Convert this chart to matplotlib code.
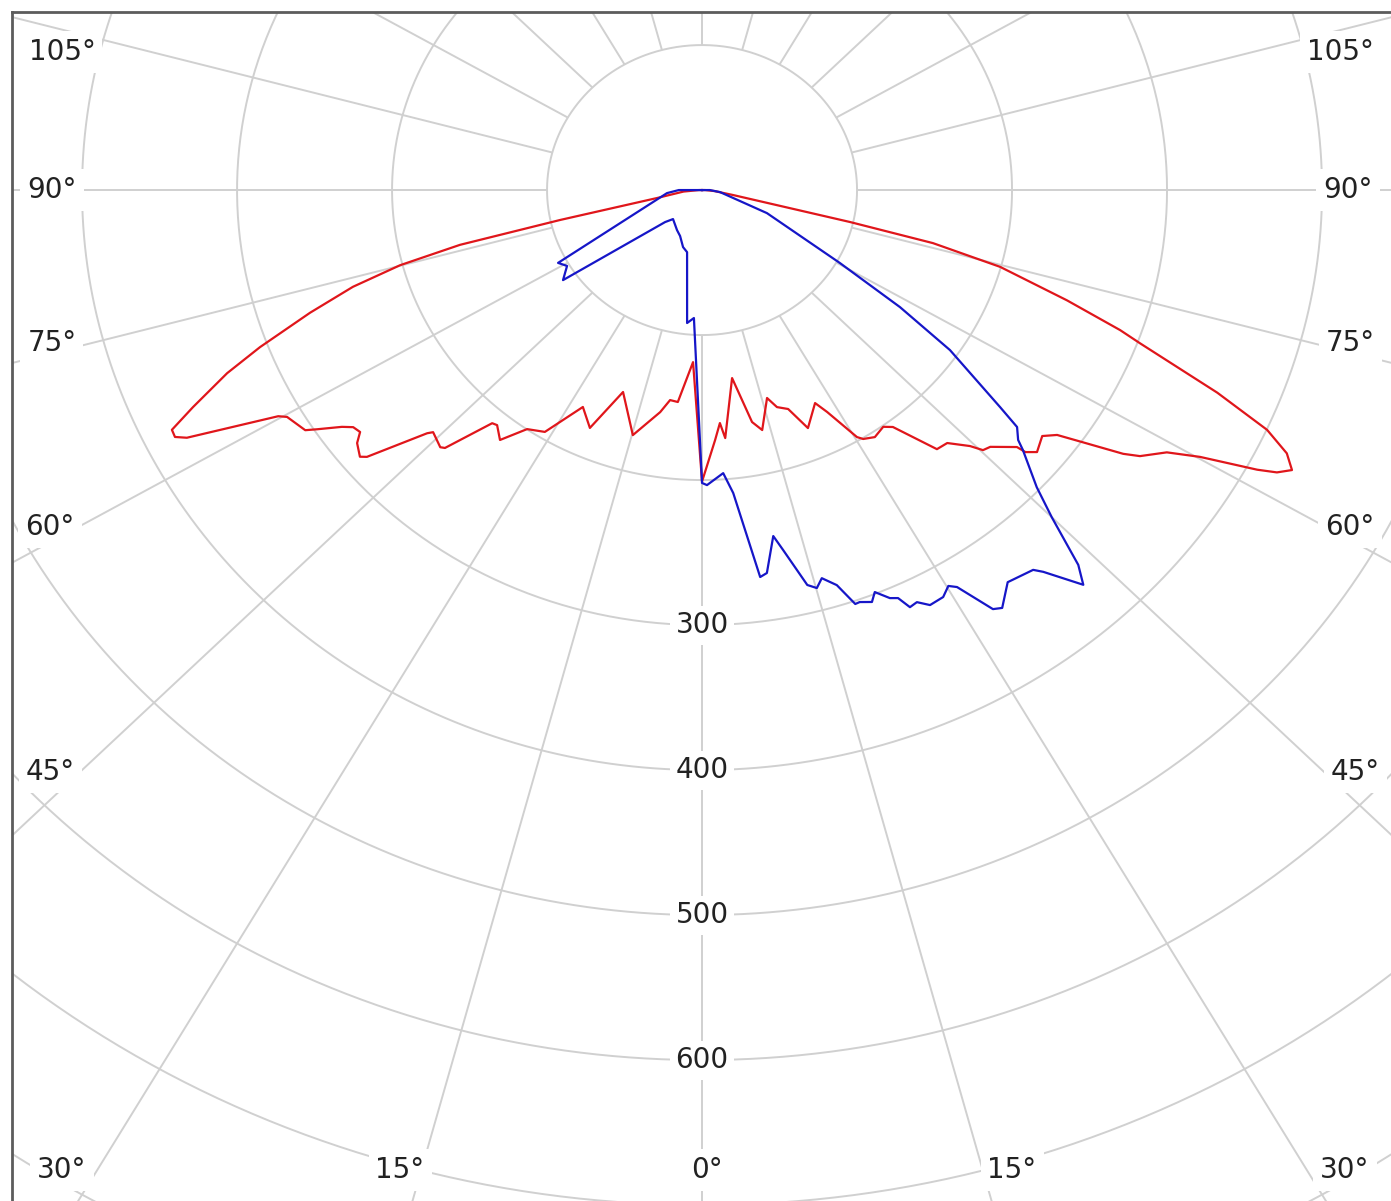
import numpy as np
import matplotlib.pyplot as plt

# Polar intensity curves: angle in degrees (0 = straight down, negative = left half), value in cd
red_angle = [-180, -90, -85, -79.3, -77.3, -76.4, -75.1, -73.5, -71.5, -69.2, -67.6, -65.5,
             -64.2, -63.4, -62.8, -60.3, -59.7, -57.1, -56.4, -54.9, -54.0, -52.9, -51.9,
             -50.2, -49.6, -46.6, -46.1, -43.6, -43.0, -40.1, -39.2, -37.1, -34.4, -31.3,
             -27.2, -23.8, -20.1, -14.8, -10.0, -8.1, -6.1, -2.8, 0,
             2.8, 4.1, 5.0, 8.5, 11.4, 13.2, 16.3, 17.9, 20.2, 22.6, 26.4, 27.8, 30.4, 31.2,
             33.2, 35.6, 37.0, 40.3, 42.2, 44.4, 45.3, 46.4, 48.9, 49.1, 50.1, 52.3, 53.6,
             54.7, 56.2, 57.0, 58.9, 60.2, 61.7, 62.3, 63.1, 64.3, 65.6, 67.2, 69.5, 70.3,
             72.1, 74.6, 76.2, 77.0, 80.3, 85, 90, 180]
red_value = [0, 2, 12, 29.5, 93.9, 160.7, 201.6, 234.9, 266.7, 305.1, 331.4, 360.9,
             379.9, 380.3, 373.7, 314.8, 310.1, 304.9, 298.1, 284.0, 278.2, 276.6, 282.8,
             287.3, 283.9, 244.1, 240.8, 244.9, 243.2, 210.2, 209.2, 216.1, 199.8, 195.2,
             168.2, 179.3, 148.3, 174.8, 155.5, 146.3, 147.0, 118.8, 201,
             172.6, 161.1, 171.7, 131.1, 163.2, 170.0, 149.4, 157.3, 160.9, 177.8, 164.0, 173.0, 197.5, 200.7,
             203.6, 200.8, 204.6, 234.3, 235.5, 247.1, 255.0, 256.8, 269.6, 276.0, 281.7, 277.4, 284.6,
             301.0, 327.0, 336.9, 350.2, 370.3, 406.8, 418.9, 426.8, 418.7, 400.3, 360.6, 301.6, 286.5,
             247.4, 199.5, 153.4, 98.0, 20.3, 8, 2, 0]

blue_angle = [-180, -90, -84.7, -61.6, -59.0, -55.3, -47.2, -43.1, -30.3, -24.1, -17.3, -12.7,
              -6.0, -3.4, 0, 0.9, 4.0, 5.5, 8.0, 9.0, 10.9, 11.9, 14.0, 15.1, 16.1, 17.7, 19.1,
              19.7, 21.1, 21.9, 23.3, 24.2, 25.0, 26.0, 27.2, 29.0, 30.2, 31.0, 33.0, 33.9,
              36.1, 39.2, 39.9, 42.1, 43.2, 45.0, 46.5, 49.1, 49.8, 51.2, 52.1, 55.4, 57.7,
              60.5, 69.2, 83.1, 90, 180]
blue_value = [0, 15, 22.7, 105.6, 101.6, 109.1, 32.5, 27.4, 32.0, 34.7, 41.2, 43.9,
              92.2, 88.4, 202, 203.5, 195.7, 209.9, 269.5, 267.4, 243.0, 253.7, 280.7, 284.3, 278.6, 286.0, 302.1,
              301.8, 304.5, 298.8, 306.4, 308.5, 317.4, 316.2, 321.8, 320.9, 315.9, 319.4, 344.6, 347.2,
              334.7, 338.0, 343.2, 366.9, 354.6, 319.1, 297.7, 273.9, 267.0, 260.8, 243.7, 194.3, 151.1,
              102.2, 44.8, 11.7, 5, 0]

ring_values = [100, 200, 300, 400, 500, 600, 700, 800, 900]
ring_labels = [300, 400, 500, 600]
spoke_angles = np.arange(0, 360, 15)

# angle labels round the frame (text, x/y in axes fraction)
edge_labels = [
    ('105°', 0.0363, 0.9664), ('90°', 0.0290, 0.8503), ('75°', 0.0290, 0.7216),
    ('60°', 0.0276, 0.5669), ('45°', 0.0276, 0.3608),
    ('105°', 0.9630, 0.9664), ('90°', 0.9688, 0.8503), ('75°', 0.9703, 0.7216),
    ('60°', 0.9703, 0.5669), ('45°', 0.9739, 0.3608),
    ('30°', 0.0363, 0.0261), ('15°', 0.2814, 0.0261), ('0°', 0.5040, 0.0261),
    ('15°', 0.7252, 0.0261), ('30°', 0.9666, 0.0261),
]


def to_xy(angle, value):
    a = np.radians(np.asarray(angle, dtype=float))
    v = np.asarray(value, dtype=float)
    return v * np.sin(a), -v * np.cos(a)


fig = plt.figure(figsize=(13.91, 12.01), dpi=100)
ax = fig.add_axes([12 / 1391, 0, 1379 / 1391, 1189 / 1201])
ax.set_xlim(-445.2, 444.5)
ax.set_ylim(-697.2, 122.8)
ax.set_xticks([])
ax.set_yticks([])
for side in ['right', 'bottom']:
    ax.spines[side].set_visible(False)
for side in ['left', 'top']:
    ax.spines[side].set_color('#5c5c5c')
    ax.spines[side].set_linewidth(2)

grid_kw = dict(color='#d0d0d0', lw=1.4, zorder=1, solid_capstyle='butt')

# rings
t = np.linspace(0, 360, 721)
for r in ring_values:
    gx, gy = to_xy(t, np.full_like(t, r))
    ax.plot(gx, gy, **grid_kw)

# spokes start at the first ring
for a in spoke_angles:
    sx, sy = to_xy([a, a], [ring_values[0], 1200])
    ax.plot(sx, sy, **grid_kw)

label_box = dict(facecolor='white', edgecolor='none', pad=4)
for v in ring_labels:
    lx, ly = to_xy(0, v)
    ax.text(lx, ly, str(v), ha='center', va='center', fontsize=20, color='#222222',
            bbox=label_box, zorder=3)

for txt, fx, fy in edge_labels:
    ax.text(fx, fy, txt, transform=ax.transAxes, ha='center', va='center', fontsize=20,
            color='#222222', bbox=dict(facecolor='white', edgecolor='none', pad=5), zorder=3)

rx, ry = to_xy(red_angle, red_value)
ax.plot(rx, ry, color='#e0161b', lw=1.6, zorder=4)
bx, by = to_xy(blue_angle, blue_value)
ax.plot(bx, by, color='#1616c8', lw=1.6, zorder=5)

fig.savefig('out.png', dpi=100)
